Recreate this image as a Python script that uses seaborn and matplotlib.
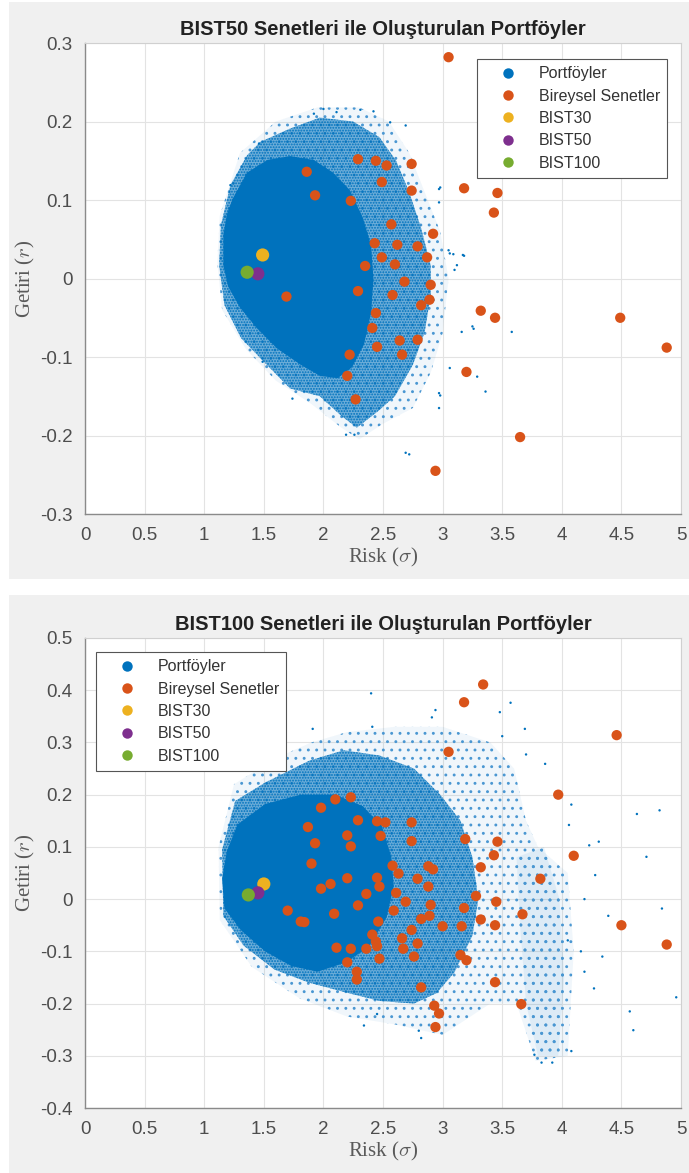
import matplotlib
matplotlib.use("Agg")
import matplotlib.pyplot as plt
from matplotlib.patches import Rectangle
from matplotlib.lines import Line2D
import seaborn as sns

# renkler (matlab varsayilan)
MAVI = "#0072BD"
TURUNCU = "#D95319"
SARI = "#EDB120"
MOR = "#7E2F8E"
YESIL = "#77AC30"

legend_etiket = ["Portföyler", "Bireysel Senetler", "BIST30", "BIST50", "BIST100"]

# ---------------- BIST50 paneli ----------------
b50_senet_x = [3.05, 1.86, 2.29, 2.44, 2.53, 2.74, 2.49, 2.74, 3.18, 3.46, 3.43, 1.93,
               2.23, 2.57, 2.92, 2.43, 2.62, 2.79, 2.49, 2.87, 2.60, 2.35, 2.68, 2.90,
               2.29, 1.69, 2.58, 2.89, 2.82, 3.32, 3.44, 2.44, 4.49, 2.41, 2.64, 2.79,
               2.45, 4.88, 2.22, 2.66, 3.20, 2.20, 2.27, 3.65, 2.94]
b50_senet_y = [0.282, 0.136, 0.152, 0.150, 0.144, 0.146, 0.123, 0.112, 0.115, 0.109, 0.084, 0.106,
               0.099, 0.069, 0.057, 0.045, 0.043, 0.041, 0.027, 0.027, 0.018, 0.016, -0.004, -0.008,
               -0.016, -0.023, -0.021, -0.027, -0.034, -0.041, -0.050, -0.044, -0.050, -0.063, -0.079, -0.078,
               -0.087, -0.088, -0.097, -0.097, -0.119, -0.124, -0.154, -0.202, -0.245]

# yogun cekirdek, orta ve dis bulut sinirlari
b50_cekirdek_x = [1.16, 1.16, 1.19, 1.24, 1.36, 1.53, 1.72, 1.92, 2.08, 2.22, 2.33, 2.40,
                  2.42, 2.40, 2.34, 2.24, 2.12, 1.97, 1.81, 1.61, 1.44, 1.30, 1.20]
b50_cekirdek_y = [0.017, 0.055, 0.082, 0.102, 0.135, 0.151, 0.156, 0.151, 0.135, 0.113, 0.078, 0.042,
                  0.0, -0.044, -0.084, -0.113, -0.127, -0.124, -0.110, -0.089, -0.063, -0.037, -0.010]
b50_orta_x = [1.125, 1.14, 1.22, 1.36, 1.47, 1.72, 1.97, 2.25, 2.47, 2.61, 2.72, 2.82, 2.90,
              2.90, 2.85, 2.75, 2.60, 2.45, 2.28, 2.15, 1.97, 1.72, 1.50, 1.31, 1.17]
b50_orta_y = [0.017, 0.068, 0.119, 0.157, 0.174, 0.191, 0.205, 0.200, 0.180, 0.150, 0.110, 0.064, 0.017,
              -0.021, -0.068, -0.110, -0.150, -0.170, -0.190, -0.175, -0.150, -0.140, -0.106, -0.076, -0.034]
b50_dis_x = [1.11, 1.13, 1.30, 1.60, 1.95, 2.30, 2.55, 2.72, 2.85, 2.98, 3.05, 3.00, 2.90,
             2.75, 2.50, 2.30, 2.15, 1.90, 1.60, 1.35, 1.15]
b50_dis_y = [0.020, 0.080, 0.160, 0.200, 0.218, 0.218, 0.200, 0.160, 0.110, 0.060, 0.0, -0.070, -0.120,
             -0.165, -0.185, -0.205, -0.190, -0.160, -0.130, -0.090, -0.040]
b50_tek_x = [2.00, 2.11, 2.31, 2.42, 2.69, 2.56, 2.97, 2.97, 3.06, 3.10, 3.17, 3.26, 3.06, 2.97,
             2.97, 2.69, 2.19, 2.26, 1.74, 1.49, 1.22, 1.46, 1.92, 2.98, 3.09, 3.18, 3.16, 3.25,
             3.29, 3.36, 3.58, 2.98, 2.72, 3.05, 3.12]
b50_tek_y = [0.216, 0.212, 0.215, 0.213, 0.195, 0.199, 0.114, 0.097, 0.032, 0.011, 0.030, -0.064, -0.114, -0.146,
             -0.165, -0.222, -0.199, -0.199, -0.153, -0.106, 0.119, 0.172, 0.210, 0.116, 0.031, 0.029, -0.068, -0.061,
             -0.125, -0.144, -0.068, -0.149, -0.224, 0.036, 0.017]
b50_endeks_x = [1.49, 1.45, 1.36]
b50_endeks_y = [0.030, 0.006, 0.008]

# ---------------- BIST100 paneli ----------------
b100_senet_x = [3.34, 3.18, 4.46, 3.05, 3.97, 2.23, 2.10, 1.98, 2.29, 2.45, 2.52, 2.74, 1.87,
                2.20, 2.48, 3.19, 3.46, 2.74, 1.93, 2.23, 4.10, 3.43, 1.90, 2.58, 2.88, 3.32,
                2.92, 2.63, 2.20, 2.45, 2.79, 3.82, 2.06, 1.98, 2.47, 2.88, 2.61, 2.36, 3.28,
                2.69, 3.45, 2.90, 2.29, 3.18, 2.59, 1.70, 2.09, 3.67, 2.89, 2.82, 3.32, 1.81,
                1.84, 2.46, 3.44, 4.50, 3.00, 3.16, 2.41, 2.74, 2.66, 2.79, 2.44, 4.88, 2.11,
                2.23, 2.45, 2.67, 2.36, 2.76, 3.15, 2.47, 3.20, 2.20, 2.28, 2.28, 3.44, 2.82,
                3.66, 2.93, 2.97, 2.94]
b100_senet_y = [0.411, 0.377, 0.314, 0.282, 0.200, 0.195, 0.191, 0.175, 0.151, 0.149, 0.147, 0.147, 0.138,
                0.122, 0.121, 0.115, 0.110, 0.111, 0.107, 0.101, 0.083, 0.084, 0.068, 0.064, 0.063, 0.061,
                0.057, 0.049, 0.040, 0.041, 0.039, 0.039, 0.029, 0.020, 0.024, 0.024, 0.012, 0.010, 0.006,
                -0.005, -0.005, -0.011, -0.012, -0.017, -0.022, -0.022, -0.028, -0.029, -0.032, -0.038, -0.039, -0.043,
                -0.044, -0.043, -0.050, -0.050, -0.052, -0.052, -0.068, -0.059, -0.075, -0.085, -0.081, -0.087, -0.093,
                -0.095, -0.090, -0.095, -0.095, -0.110, -0.107, -0.114, -0.117, -0.121, -0.139, -0.154, -0.159, -0.169,
                -0.201, -0.204, -0.219, -0.245]

b100_cekirdek_x = [1.15, 1.19, 1.28, 1.51, 1.81, 2.10, 2.33, 2.49, 2.57, 2.59, 2.53, 2.38,
                   2.18, 1.95, 1.73, 1.51, 1.31, 1.17]
b100_cekirdek_y = [0.039, 0.092, 0.143, 0.182, 0.200, 0.200, 0.178, 0.140, 0.081, 0.025, -0.035, -0.092,
                   -0.122, -0.139, -0.128, -0.100, -0.060, -0.018]
b100_orta_x = [1.15, 1.26, 1.51, 1.88, 2.17, 2.47, 2.76, 2.98, 3.15, 3.25, 3.30, 3.25, 3.10,
               2.95, 2.76, 2.47, 2.21, 1.88, 1.59, 1.33, 1.16]
b100_orta_y = [0.095, 0.188, 0.223, 0.265, 0.285, 0.275, 0.250, 0.200, 0.150, 0.080, 0.0, -0.070, -0.140,
               -0.180, -0.200, -0.195, -0.180, -0.160, -0.135, -0.089, -0.032]
b100_dis_x = [1.12, 1.25, 1.60, 1.90, 2.20, 2.60, 3.00, 3.40, 3.60, 3.70, 3.80, 4.05, 4.10,
              4.05, 3.78, 3.62, 3.40, 3.00, 2.60, 2.20, 1.80, 1.40, 1.13]
b100_dis_y = [0.100, 0.220, 0.270, 0.300, 0.320, 0.330, 0.330, 0.300, 0.250, 0.150, 0.100, 0.050, -0.100,
              -0.300, -0.310, -0.200, -0.200, -0.260, -0.240, -0.225, -0.190, -0.130, -0.040]
b100_kume_x = [3.62, 3.85, 3.98, 4.02, 3.97, 3.80, 3.70, 3.65]
b100_kume_y = [0.080, 0.100, 0.0, -0.150, -0.300, -0.300, -0.200, -0.050]
b100_tek_x = [2.40, 2.41, 1.91, 2.94, 2.91, 3.57, 3.48, 3.69, 3.50, 3.70, 3.86, 4.08, 4.06,
              4.23, 4.31, 4.63, 4.82, 4.71, 4.28, 4.19, 4.39, 4.84, 4.34, 4.19, 4.27, 4.57,
              4.60, 4.96, 4.08, 3.83, 3.77, 3.92, 4.05, 4.16, 2.34, 2.45, 2.80, 2.82]
b100_tek_y = [0.394, 0.330, 0.326, 0.362, 0.348, 0.376, 0.358, 0.326, 0.312, 0.277, 0.259, 0.181, 0.142,
              0.103, 0.110, 0.163, 0.170, 0.081, 0.046, 0.000, -0.032, -0.018, -0.110, -0.139, -0.171, -0.215,
              -0.251, -0.188, -0.291, -0.313, -0.298, -0.313, -0.079, -0.100, -0.242, -0.220, -0.252, -0.266]
b100_endeks_x = [1.50, 1.45, 1.37]
b100_endeks_y = [0.029, 0.012, 0.008]


def bulut_ciz(ax, cek_x, cek_y, orta_x, orta_y, dis_x, dis_y):
    # portfoy bulutunu katmanlar halinde ciz
    ax.fill(dis_x, dis_y, facecolor=MAVI, alpha=0.06, edgecolor="none", zorder=1)
    ax.fill(dis_x, dis_y, facecolor="none", edgecolor="#4a97d2", hatch="..", linewidth=0, zorder=1)
    ax.fill(orta_x, orta_y, facecolor=MAVI, alpha=0.55, edgecolor="none", zorder=1.5)
    ax.fill(orta_x, orta_y, facecolor="none", edgecolor=MAVI, hatch="......", linewidth=0, zorder=1.5)
    ax.fill(cek_x, cek_y, facecolor=MAVI, edgecolor="none", zorder=2)


def panel_ciz(ax, baslik, senet_x, senet_y, tek_x, tek_y, endeks_x, endeks_y, ylim, yticks):
    # tek bir paneli matlab gorunumunde ciz
    sns.scatterplot(x=tek_x, y=tek_y, ax=ax, color=MAVI, s=3,
                    edgecolor="none", zorder=2.5)
    sns.scatterplot(x=senet_x, y=senet_y, ax=ax, color=TURUNCU, s=55,
                    edgecolor="none", zorder=4)
    sns.scatterplot(x=endeks_x, y=endeks_y, ax=ax, hue=["BIST30", "BIST50", "BIST100"],
                    palette=[SARI, MOR, YESIL], s=90, edgecolor="none", zorder=5, legend=False)
    ax.set_xlim(0, 5)
    ax.set_ylim(*ylim)
    ax.set_xticks([0, 0.5, 1, 1.5, 2, 2.5, 3, 3.5, 4, 4.5, 5])
    ax.set_xticklabels(["0", "0.5", "1", "1.5", "2", "2.5", "3", "3.5", "4", "4.5", "5"])
    ax.set_yticks(yticks)
    ax.set_yticklabels([("%g" % t) for t in yticks])
    ax.grid(True, color="#e3e3e3", linewidth=0.8, zorder=0)
    ax.set_axisbelow(True)
    ax.tick_params(direction="in", length=4, width=0.8, color="#7a7a7a",
                   labelcolor="#4d4d4d", labelsize=13.5)
    ax.tick_params(axis="x", pad=9)
    ax.tick_params(axis="y", pad=9)
    for k in ["left", "bottom"]:
        ax.spines[k].set_color("#8a8a8a")
        ax.spines[k].set_linewidth(1.0)
    for k in ["top", "right"]:
        ax.spines[k].set_color("#d0d0d0")
        ax.spines[k].set_linewidth(0.8)
    ax.set_title(baslik, fontsize=14.5, fontweight="bold", color="#222222", pad=6)
    ax.set_xlabel(r"Risk ($\sigma$)", fontsize=15, color="#5a5a5a", family="Liberation Serif", labelpad=2)
    ax.set_ylabel(r"Getiri ($r$)", fontsize=15, color="#5a5a5a", family="Liberation Serif", labelpad=2)


def legend_ekle(ax, konum, anchor):
    # matlab tarzi legend
    renkler = [MAVI, TURUNCU, SARI, MOR, YESIL]
    tutamac = [Line2D([], [], marker="o", linestyle="none", markersize=7.5,
                      markerfacecolor=c, markeredgecolor="none") for c in renkler]
    leg = ax.legend(tutamac, legend_etiket, loc=konum, bbox_to_anchor=anchor, fontsize=11.5,
                    frameon=True, fancybox=False, framealpha=1, edgecolor="#555555",
                    handletextpad=0.45, borderpad=0.45, labelspacing=0.46, borderaxespad=0,
                    handlelength=3.0)
    leg.get_frame().set_linewidth(0.8)
    for t in leg.get_texts():
        t.set_color("#333333")
    leg.set_zorder(10)


sns.set_style("white")
plt.rcParams["font.family"] = ["Liberation Sans", "DejaVu Sans"]
plt.rcParams["mathtext.fontset"] = "cm"
plt.rcParams["hatch.linewidth"] = 0.9

fig = plt.figure(figsize=(6.89, 11.73), dpi=100)
fig.patch.set_facecolor("white")
fig.add_artist(Rectangle((0.0131, 0.5064), 0.987, 0.4919, transform=fig.transFigure,
                         facecolor="#f0f0f0", edgecolor="none", zorder=-10))
fig.add_artist(Rectangle((0.0131, 0.0), 0.987, 0.4928, transform=fig.transFigure,
                         facecolor="#f0f0f0", edgecolor="none", zorder=-10))

ax1 = fig.add_axes([0.1234, 0.5618, 0.865, 0.4015])
ax2 = fig.add_axes([0.1234, 0.0554, 0.865, 0.4007])

bulut_ciz(ax1, b50_cekirdek_x, b50_cekirdek_y, b50_orta_x, b50_orta_y, b50_dis_x, b50_dis_y)
panel_ciz(ax1, "BIST50 Senetleri ile Oluşturulan Portföyler", b50_senet_x, b50_senet_y,
          b50_tek_x, b50_tek_y, b50_endeks_x, b50_endeks_y, (-0.3, 0.3),
          [-0.3, -0.2, -0.1, 0, 0.1, 0.2, 0.3])
legend_ekle(ax1, "upper right", (0.977, 0.966))

bulut_ciz(ax2, b100_cekirdek_x, b100_cekirdek_y, b100_orta_x, b100_orta_y, b100_dis_x, b100_dis_y)
ax2.fill(b100_kume_x, b100_kume_y, facecolor=MAVI, alpha=0.08, edgecolor="none", zorder=1.2)
ax2.fill(b100_kume_x, b100_kume_y, facecolor="none", edgecolor="#4a97d2", hatch="..", linewidth=0, zorder=1.2)
panel_ciz(ax2, "BIST100 Senetleri ile Oluşturulan Portföyler", b100_senet_x, b100_senet_y,
          b100_tek_x, b100_tek_y, b100_endeks_x, b100_endeks_y, (-0.4, 0.5),
          [-0.4, -0.3, -0.2, -0.1, 0, 0.1, 0.2, 0.3, 0.4, 0.5])
legend_ekle(ax2, "upper left", (0.018, 0.970))

fig.savefig("out.png", dpi=100, facecolor=fig.get_facecolor())
